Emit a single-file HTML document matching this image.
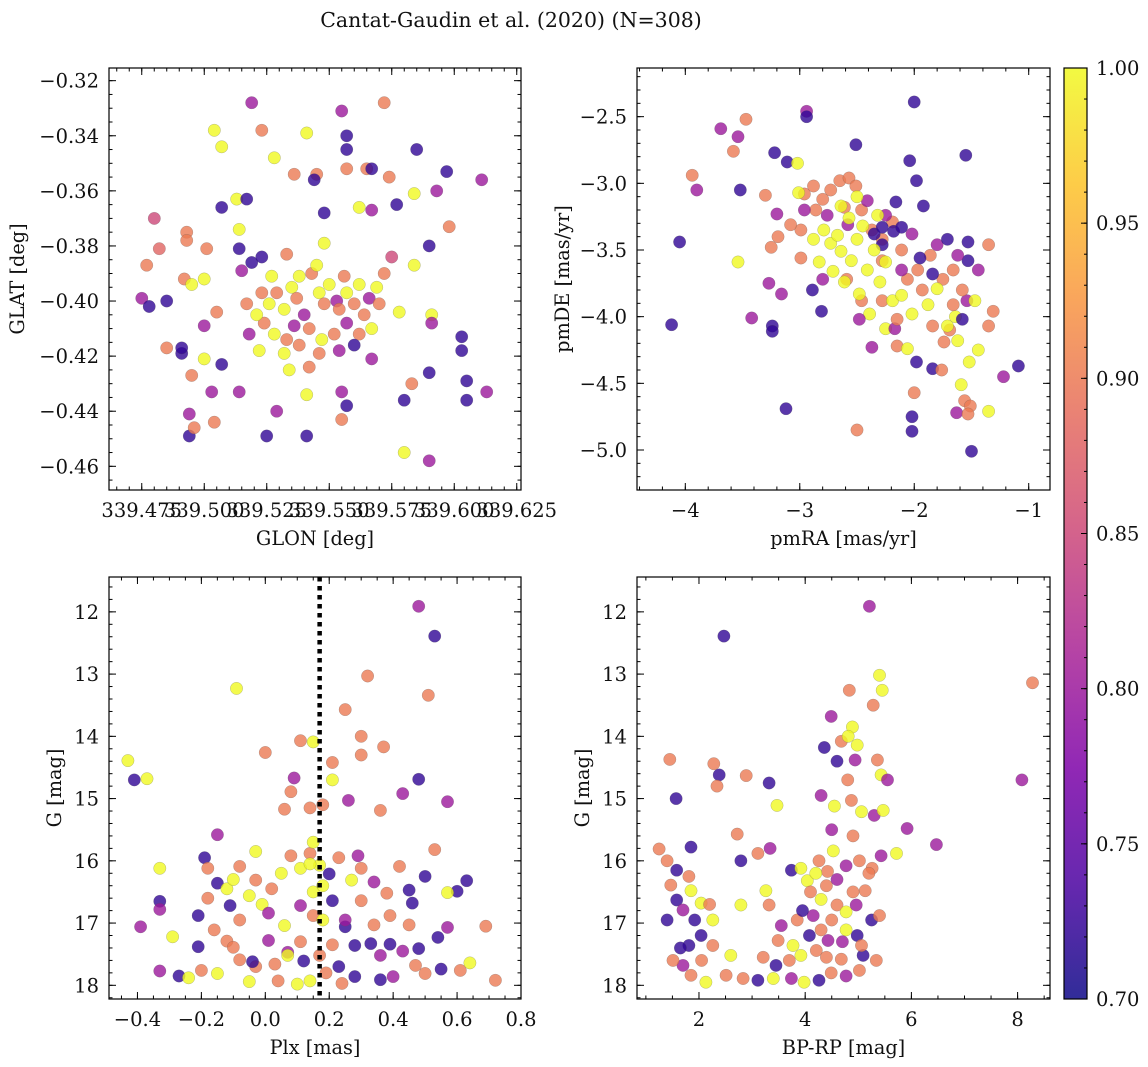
<!DOCTYPE html>
<html><head><meta charset="utf-8">
<style>
html,body{margin:0;padding:0;background:#fff;}
svg{display:block;font-family:"DejaVu Serif","Liberation Serif",serif;}
</style></head>
<body>
<svg id="fig" width="1148" height="1067" viewBox="0 0 1148 1067" xmlns="http://www.w3.org/2000/svg">
<defs>
<linearGradient id="plasma" x1="0" y1="1" x2="0" y2="0">
<stop offset="0" stop-color="#0d0887"/><stop offset="0.125" stop-color="#4c02a1"/><stop offset="0.25" stop-color="#7e03a8"/><stop offset="0.375" stop-color="#a92395"/><stop offset="0.5" stop-color="#cc4778"/><stop offset="0.625" stop-color="#e56b5d"/><stop offset="0.75" stop-color="#f89540"/><stop offset="0.875" stop-color="#fdc328"/><stop offset="1" stop-color="#f0f921"/>
</linearGradient>
</defs>
<text x="511" y="27" font-size="20.5" text-anchor="middle" fill="#111">Cantat-Gaudin et al. (2020) (N=308)</text>
</svg>
<script>
// ---- data ----
const glonGlatProb = [[339.519,-0.328,.8],[339.555,-0.331,.8],[339.572,-0.328,.9],[339.504,-0.338,1],[339.523,-0.338,.9],[339.541,-0.339,1],[339.557,-0.340,.72],[339.557,-0.345,.72],[339.507,-0.344,1],[339.585,-0.345,.72],[339.528,-0.348,1],[339.536,-0.354,.9],[339.545,-0.354,.9],[339.544,-0.356,.72],[339.557,-0.352,.9],[339.565,-0.352,.9],[339.567,-0.352,.72],[339.574,-0.355,.9],[339.597,-0.353,.72],[339.577,-0.365,.72],[339.584,-0.361,1],[339.593,-0.360,.8],[339.611,-0.356,.8],[339.567,-0.367,.8],[339.562,-0.366,1],[339.513,-0.363,1],[339.517,-0.363,.72],[339.507,-0.366,.72],[339.514,-0.374,1],[339.548,-0.368,.72],[339.480,-0.370,.85],[339.482,-0.381,.88],[339.493,-0.375,.9],[339.493,-0.378,.9],[339.501,-0.381,.9],[339.477,-0.387,.9],[339.492,-0.392,.9],[339.500,-0.392,1],[339.548,-0.379,1],[339.514,-0.381,.72],[339.598,-0.373,.9],[339.590,-0.380,.72],[339.584,-0.387,1],[339.575,-0.384,.85],[339.475,-0.399,.8],[339.478,-0.402,.72],[339.485,-0.400,.72],[339.495,-0.394,1],[339.515,-0.389,.8],[339.519,-0.386,.72],[339.523,-0.384,.72],[339.533,-0.383,.9],[339.505,-0.404,.9],[339.500,-0.409,.8],[339.485,-0.417,.9],[339.491,-0.419,.72],[339.491,-0.417,.72],[339.500,-0.421,1],[339.507,-0.423,.72],[339.495,-0.427,.9],[339.503,-0.433,.8],[339.514,-0.433,.8],[339.504,-0.444,.9],[339.494,-0.441,.8],[339.494,-0.449,.72],[339.496,-0.446,.9],[339.529,-0.440,.8],[339.525,-0.449,.72],[339.541,-0.449,.72],[339.541,-0.434,1],[339.555,-0.433,.8],[339.555,-0.443,.9],[339.557,-0.438,.72],[339.567,-0.421,.8],[339.583,-0.430,.9],[339.590,-0.426,.72],[339.580,-0.436,.72],[339.580,-0.455,1],[339.590,-0.458,.8],[339.603,-0.413,.72],[339.603,-0.418,.72],[339.605,-0.429,.72],[339.605,-0.436,.72],[339.613,-0.433,.8],[339.591,-0.405,1],[339.591,-0.408,.8],[339.578,-0.404,1],
[339.526,-0.401,1],[339.529,-0.397,.9],[339.532,-0.403,1],[339.535,-0.395,1],[339.537,-0.399,.9],[339.540,-0.405,.8],[339.543,-0.390,.9],[339.545,-0.387,1],[339.546,-0.397,1],[339.548,-0.401,.9],[339.550,-0.394,1],[339.553,-0.400,.8],[339.554,-0.403,.9],[339.556,-0.391,.9],[339.557,-0.397,1],[339.560,-0.401,.9],[339.562,-0.394,1],[339.564,-0.405,.9],[339.566,-0.399,.8],[339.569,-0.395,1],[339.570,-0.401,.9],[339.572,-0.390,.9],[339.524,-0.408,.9],[339.528,-0.412,1],[339.533,-0.414,.9],[339.536,-0.409,.8],[339.542,-0.410,.9],[339.547,-0.414,1],[339.552,-0.412,.9],[339.557,-0.408,.8],[339.562,-0.412,.9],[339.567,-0.410,1],[339.522,-0.418,1],[339.532,-0.419,1],[339.538,-0.416,.9],[339.546,-0.419,.9],[339.554,-0.418,.8],[339.560,-0.416,.72],[339.534,-0.425,1],[339.542,-0.424,.9],[339.523,-0.397,.9],[339.527,-0.391,1],[339.538,-0.391,1],[339.521,-0.405,1],[339.517,-0.401,.9],[339.518,-0.412,.8]];

const pmraPmdeProb = [[-2.0,-2.39,.72],[-2.94,-2.46,.8],[-2.94,-2.50,.72],[-3.69,-2.59,.8],[-3.47,-2.52,.9],[-3.54,-2.65,.8],[-3.58,-2.76,.9],[-3.22,-2.77,.72],[-2.51,-2.71,.72],[-1.55,-2.79,.72],[-2.04,-2.83,.72],[-3.11,-2.84,.72],[-3.02,-2.85,1],[-3.94,-2.94,.9],[-3.90,-3.05,.8],[-3.52,-3.05,.72],[-1.98,-2.98,.72],[-1.92,-3.17,.72],[-2.16,-3.14,.72],[-4.05,-3.44,.72],[-3.54,-3.59,1],[-4.12,-4.06,.72],[-3.42,-4.01,.8],[-3.24,-4.07,.72],[-3.24,-4.11,.72],[-3.12,-4.69,.72],[-2.50,-4.85,.9],[-2.02,-4.86,.72],[-2.02,-4.75,.72],[-2.0,-4.57,.9],[-1.63,-4.72,.8],[-1.56,-4.63,.9],[-1.51,-4.67,.9],[-1.53,-4.73,.9],[-1.50,-5.01,.72],[-1.35,-4.71,1],[-1.52,-4.34,1],[-1.22,-4.45,.8],[-1.09,-4.37,.72],[-1.53,-3.44,.72],[-1.53,-3.58,.72],[-1.54,-3.88,.8],[-1.35,-4.07,.9],[-1.31,-3.96,.9],[-1.35,-3.46,.9],[-3.30,-3.09,.9],[-3.20,-3.23,.8],[-3.19,-3.40,.9],[-3.25,-3.48,.9],[-3.27,-3.75,.8],[-3.16,-3.83,.8],[-2.99,-3.56,.9],[-2.89,-3.80,.72],[-2.81,-3.96,.72],[-2.59,-3.72,.9],[-2.39,-3.98,1],[-2.25,-4.09,1],[-2.17,-4.09,.8],[-2.37,-4.23,.8],[-2.15,-4.22,.9],[-2.06,-4.24,1],[-1.98,-4.34,.72],[-1.84,-4.39,.72],[-1.76,-4.40,.9],[-1.59,-4.51,1],[-1.74,-4.19,.9],[-1.69,-4.10,.9],[-1.64,-4.00,1],
[-2.96,-3.08,.9],[-2.88,-3.02,.9],[-2.80,-3.12,.9],[-2.73,-3.05,.9],[-2.65,-2.98,.9],[-2.57,-2.96,.9],[-2.51,-3.02,.9],[-2.61,-3.18,.9],[-2.46,-3.20,.9],[-2.37,-3.35,.9],[-2.28,-3.42,.9],[-2.19,-3.29,.9],[-2.11,-3.50,.9],[-1.97,-3.65,.9],[-1.86,-3.54,.9],[-1.75,-3.72,.9],[-1.66,-3.65,.9],[-1.58,-3.80,.9],[-1.93,-3.80,.9],[-2.06,-3.72,.9],[-2.99,-3.35,.9],[-2.86,-3.20,.9],[-3.08,-3.31,.9],[-2.46,-3.88,.9],[-2.28,-3.88,.9],[-2.15,-4.02,.9],[-1.84,-4.07,.9],[-1.66,-3.91,.9],[-2.28,-3.58,.9],
[-2.96,-3.20,.8],[-2.76,-3.24,.8],[-2.58,-3.31,.8],[-2.41,-3.13,.8],[-2.25,-3.24,.8],[-2.02,-3.38,.8],[-1.80,-3.46,.8],[-1.62,-3.54,.8],[-1.44,-3.65,.8],[-2.11,-3.65,.8],[-2.80,-3.72,.8],[-2.48,-4.02,.8],
[-2.35,-3.38,.72],[-2.28,-3.33,.72],[-2.18,-3.36,.72],[-1.95,-3.56,.72],[-1.84,-3.68,.72],[-1.71,-3.42,.72],[-1.58,-4.02,.72],[-2.28,-3.46,.72],[-2.11,-3.33,.72],
[-2.79,-3.35,1],[-2.73,-3.45,1],[-2.67,-3.39,1],[-2.64,-3.51,1],[-2.57,-3.26,1],[-2.55,-3.58,1],[-2.50,-3.42,1],[-2.45,-3.32,1],[-2.41,-3.65,1],[-2.35,-3.50,1],[-2.30,-3.74,1],[-2.25,-3.59,1],[-2.61,-3.74,1],[-2.71,-3.66,1],[-2.83,-3.59,1],[-2.48,-3.83,1],[-2.19,-3.88,1],[-2.11,-3.84,1],[-2.02,-3.98,1],[-1.88,-3.91,1],[-1.80,-3.79,1],[-1.71,-4.07,1],[-1.62,-4.18,1],[-1.44,-4.25,1],[-1.47,-3.88,1],[-2.64,-3.17,1],[-2.50,-3.10,1],[-3.01,-3.07,1],[-2.88,-3.42,1],[-2.32,-3.24,1]];

const plxGProb = [[0.48,11.91,.8],[0.53,12.39,.72],[-0.09,13.23,1],[0.32,13.03,.9],[0.51,13.34,.9],[0.15,14.09,1],[0.25,13.57,.9],[0.00,14.26,.9],[0.11,14.07,.9],[-0.43,14.39,1],[-0.41,14.70,.72],[-0.37,14.68,1],[0.21,14.42,.9],[0.30,14.00,.9],[0.30,14.30,.9],[0.37,14.17,.9],[0.48,14.69,.72],[0.57,15.05,.8],[0.43,14.92,.8],[0.36,15.19,.9],[0.21,14.70,1],[0.26,15.03,.8],[0.09,14.67,.8],[0.08,14.89,.9],[0.06,15.17,.9],[0.14,15.15,.9],[0.18,15.10,.9],[-0.15,15.58,.8],[-0.19,15.95,.72],[-0.18,16.12,.9],[-0.33,16.12,1],[-0.33,16.65,.72],[-0.39,17.06,.8],[-0.33,16.78,.8],[-0.29,17.22,1],[-0.33,17.77,.8],[-0.27,17.85,.72],[-0.20,17.76,.9],[-0.21,17.38,.72],[-0.16,17.11,.9],[-0.15,17.81,1],[-0.15,16.36,.72],[-0.08,16.09,.9],[-0.03,15.85,1],[-0.03,16.31,.9],[-0.01,16.70,1],[0.01,17.28,.8],[0.03,17.66,.9],[0.07,17.47,.8],[0.11,17.30,.9],[0.10,17.98,1],[0.19,17.80,.9],[0.23,17.70,.72],[0.25,17.06,.72],[0.28,17.36,.72],[0.33,17.33,.72],[0.36,17.52,.8],[0.39,17.34,.72],[0.43,17.45,.8],[0.48,17.41,.72],[0.54,17.23,.72],[0.57,17.07,.8],[0.69,17.05,.9],[0.63,16.32,.72],[0.60,16.49,.72],[0.57,16.51,1],[0.53,15.82,.9],[0.50,16.25,.72],[0.42,16.09,.9],[0.45,16.47,.72],[0.46,16.68,.72],[0.38,16.52,.9],[0.34,16.34,.8],[0.30,16.12,.9],[0.29,15.92,.8],[0.27,16.31,1],[0.23,15.95,.9],[0.20,16.21,.72],[0.17,16.07,1],[0.14,15.88,.9],[0.11,16.12,1],[0.08,15.92,.9],[0.05,16.20,1],[0.02,16.45,.9],[-0.05,16.56,1],[-0.08,16.95,.9],[-0.11,16.72,.72],[-0.12,17.29,.9],[-0.08,17.59,.9],[-0.03,17.70,.9],[-0.05,17.94,1],[-0.04,17.62,.72],[0.11,16.72,.8],[0.15,16.88,.9],[0.18,16.95,1],[0.21,16.64,.72],[0.25,16.95,.8],[0.30,16.64,.9],[0.34,17.03,.9],[0.39,16.88,.9],[0.45,17.03,.9],[0.47,17.68,.9],[0.50,17.81,.9],[0.55,17.74,.72],[0.61,17.76,.9],[0.64,17.64,1],[0.72,17.92,.9],[0.12,17.61,.72],[0.14,17.93,1],[0.17,17.52,.9],[0.21,17.35,.9],[0.06,17.04,1],[0.01,16.84,.8],[-0.18,16.60,.9],[-0.21,16.88,.72],[-0.10,17.39,.9],[0.36,17.91,.72],[0.40,17.86,.8],[0.24,17.97,.9],[0.28,17.86,.72],[0.07,17.52,1],[0.04,17.93,.9],[0.15,15.70,1],[0.15,16.50,1],[0.18,16.40,1],[0.14,16.05,1],[-0.12,16.45,1],[-0.10,16.30,1],[-0.24,17.88,1]];

const bprpGProb = [[2.47,12.39,.72],[5.21,11.91,.8],[8.28,13.14,.9],[5.40,13.02,1],[4.83,13.26,.9],[5.28,13.50,.9],[5.45,13.26,1],[4.49,13.68,.8],[4.89,13.85,1],[4.68,14.08,.9],[4.81,14.00,1],[4.98,14.14,1],[4.36,14.18,.72],[4.94,14.38,.8],[5.36,14.38,.9],[5.43,14.62,1],[5.55,14.70,.8],[1.45,14.37,.9],[2.28,14.44,.9],[2.38,14.62,.72],[2.34,14.80,.9],[2.89,14.63,.9],[3.32,14.75,.72],[8.08,14.70,.8],[1.57,15.00,.72],[3.47,15.11,1],[4.30,14.95,.8],[4.55,15.12,1],[4.87,15.03,.9],[5.06,15.21,1],[5.30,15.27,.8],[5.47,15.19,1],[5.92,15.48,.8],[6.47,15.74,.8],[5.72,15.88,1],[1.25,15.81,.9],[1.85,15.78,.72],[2.72,15.57,.9],[3.11,15.88,.9],[3.34,15.80,.8],[2.79,16.00,.72],[3.74,16.15,.72],[3.92,16.12,1],[4.04,16.32,1],[4.26,16.00,.9],[4.42,16.17,.9],[4.53,15.84,1],[4.77,16.08,.8],[5.02,16.00,.9],[5.26,16.12,.9],[5.43,15.92,.8],[1.40,16.00,.9],[1.58,16.15,.72],[1.81,16.25,.9],[1.47,16.39,.9],[1.85,16.48,1],[1.58,16.63,.72],[1.70,16.79,.8],[1.40,16.95,.72],[2.04,16.68,1],[2.26,16.95,1],[2.79,16.71,1],[3.26,16.48,1],[3.32,16.71,.9],[3.55,17.04,.8],[3.85,16.95,.9],[4.15,16.88,.8],[4.30,16.62,1],[4.60,16.71,.9],[4.77,16.82,1],[4.96,16.71,.8],[5.13,16.48,.9],[5.25,16.95,.72],[4.77,17.11,1],[4.98,17.20,.72],[4.43,17.28,.8],[4.21,17.44,.9],[3.92,17.52,1],[3.70,17.60,.9],[3.45,17.68,.72],[3.21,17.55,.9],[2.60,17.52,1],[2.26,17.36,.9],[2.04,17.20,.72],[1.81,17.36,.72],[1.70,17.68,.8],[1.51,17.60,.9],[1.85,17.84,.9],[2.13,17.95,1],[2.51,17.84,.9],[2.83,17.89,.9],[3.11,17.92,.72],[3.40,17.89,1],[3.74,17.89,.8],[3.98,17.95,1],[4.26,17.92,.72],[4.49,17.80,.9],[4.77,17.85,.8],[5.02,17.76,.9],[5.34,17.60,.9],[5.09,17.52,.72],[5.40,16.88,.9],[5.06,17.36,.9],[4.68,17.58,.9],[4.30,17.11,.9],[4.08,17.20,.72],[3.77,17.36,1],[1.92,16.95,.72],[3.49,17.28,.9],[4.40,16.40,.9],[4.60,16.30,.8],[4.90,16.50,.9],[4.50,16.95,.9],[4.70,17.30,.8],[4.40,17.55,.9],[4.90,15.60,.9],[4.50,15.50,.8],[4.20,16.20,1],[4.10,16.50,.9],[3.95,16.80,.72],[5.20,16.20,.9],[4.80,14.70,.9],[4.60,14.40,.72],[2.05,17.60,.9],[1.65,17.40,.72],[2.20,16.70,.9]];

const glonTicks = [339.475,339.500,339.525,339.550,339.575,339.600,339.625];
const glonLabels = ["339.475","339.500","339.525","339.550","339.575","339.600","339.625"];
const glatTicks = [-0.32,-0.34,-0.36,-0.38,-0.40,-0.42,-0.44,-0.46];
const glatLabels = ["−0.32","−0.34","−0.36","−0.38","−0.40","−0.42","−0.44","−0.46"];
const pmraTicks = [-4,-3,-2,-1];
const pmraLabels = ["−4","−3","−2","−1"];
const pmdeTicks = [-2.5,-3.0,-3.5,-4.0,-4.5,-5.0];
const pmdeLabels = ["−2.5","−3.0","−3.5","−4.0","−4.5","−5.0"];
const plxTicks = [-0.4,-0.2,0,0.2,0.4,0.6,0.8];
const plxLabels = ["−0.4","−0.2","0.0","0.2","0.4","0.6","0.8"];
const gTicks = [12,13,14,15,16,17,18];
const gLabels = ["12","13","14","15","16","17","18"];
const bprpTicks = [2,4,6,8];
const bprpLabels = ["2","4","6","8"];
const cbTicks = [0.70,0.75,0.80,0.85,0.90,0.95,1.00];
const cbLabels = ["0.70","0.75","0.80","0.85","0.90","0.95","1.00"];
const plxCut = 0.17;

// ---- rendering ----
const NS = "http://www.w3.org/2000/svg";
const svg = document.getElementById('fig');
const TF = 19.5, AF = 19.3;
function el(tag, attrs, parent){const e=document.createElementNS(NS,tag);for(const k in attrs)e.setAttribute(k,attrs[k]);(parent||svg).appendChild(e);return e;}
const stops=[[0,[13,8,135]],[0.125,[76,2,161]],[0.25,[126,3,168]],[0.375,[169,35,149]],[0.5,[204,71,120]],[0.625,[229,107,93]],[0.75,[248,149,64]],[0.875,[253,195,40]],[1,[240,249,33]]];
function plasma(p){let t=(p-0.7)/0.3;t=Math.max(0,Math.min(1,t));for(let i=1;i<stops.length;i++){if(t<=stops[i][0]){const a=stops[i-1],b=stops[i];const f=(t-a[0])/(b[0]-a[0]);const c=a[1].map((v,j)=>Math.round(v+(b[1][j]-v)*f));return `rgb(${c[0]},${c[1]},${c[2]})`;}}return 'rgb(240,249,33)';}

function panel(cfg){
  const [L,T,R,B]=cfg.box;
  const g=el('g',{});
  
  
  const sx=v=>L+(v-cfg.xr[0])/(cfg.xr[1]-cfg.xr[0])*(R-L);
  const sy=cfg.invert? v=>T+(v-cfg.yr[0])/(cfg.yr[1]-cfg.yr[0])*(B-T) : v=>B-(v-cfg.yr[0])/(cfg.yr[1]-cfg.yr[0])*(B-T);
  const clip=el('clipPath',{id:cfg.name+'-clip'},g);el('rect',{x:L,y:T,width:R-L,height:B-T},clip);
  const pts=el('g',{'clip-path':`url(#${cfg.name}-clip)`},g);
  
  
  cfg.data.forEach(d=>{
    const c=el('circle',{cx:sx(d[0]).toFixed(1),cy:sy(d[1]).toFixed(1),r:6.2,fill:plasma(d[2]),'fill-opacity':0.8,stroke:'#555','stroke-opacity':0.5,'stroke-width':0.4},pts);
    
    
  });
  if(cfg.vline!==undefined){
    const ln=el('line',{x1:sx(cfg.vline),x2:sx(cfg.vline),y1:T,y2:B,stroke:'#000','stroke-width':4.5,'stroke-dasharray':'4.5 4.5'},g);
    
    
  }
  const frame=el('rect',{x:L,y:T,width:R-L,height:B-T,fill:'none',stroke:'#000','stroke-width':1.2},g);
  
  
  const tk=el('g',{stroke:'#000','stroke-width':1},g);
  const x0=Math.min(...cfg.xr),x1=Math.max(...cfg.xr),y0=Math.min(...cfg.yr),y1=Math.max(...cfg.yr);
  for(let v=Math.ceil(x0/cfg.xminor-1e-6)*cfg.xminor;v<=x1+1e-9;v+=cfg.xminor){const x=sx(v);el('line',{x1:x,x2:x,y1:B,y2:B-3.5},tk);el('line',{x1:x,x2:x,y1:T,y2:T+3.5},tk);}
  for(let v=Math.ceil(y0/cfg.yminor-1e-6)*cfg.yminor;v<=y1+1e-9;v+=cfg.yminor){const y=sy(v);el('line',{x1:L,x2:L+3.5,y1:y,y2:y},tk);el('line',{x1:R,x2:R-3.5,y1:y,y2:y},tk);}
  cfg.xt.forEach((v,i)=>{const x=sx(v);el('line',{x1:x,x2:x,y1:B,y2:B-7},tk);el('line',{x1:x,x2:x,y1:T,y2:T+7},tk);
    const t=el('text',{x:x,y:B+27,'font-size':TF,'text-anchor':'middle',fill:'#111'},g);t.textContent=cfg.xl[i];
    
    });
  cfg.yt.forEach((v,i)=>{const y=sy(v);el('line',{x1:L,x2:L+7,y1:y,y2:y},tk);el('line',{x1:R,x2:R-7,y1:y,y2:y},tk);
    const t=el('text',{x:L-10,y:y+7,'font-size':TF,'text-anchor':'end',fill:'#111'},g);t.textContent=cfg.yl[i];
    
    });
  const xt=el('text',{x:(L+R)/2,y:B+55,'font-size':AF,'text-anchor':'middle',fill:'#111'},g);xt.textContent=cfg.xtitle;
  
  
  const yc=(T+B)/2;
  const yt=el('text',{x:cfg.ytx,y:yc,'font-size':AF,'text-anchor':'middle',fill:'#111',transform:`rotate(-90 ${cfg.ytx} ${yc})`},g);yt.textContent=cfg.ytitle;
  
  
}

panel({name:'glon-glat-panel',box:[109,68,521,490],xr:[339.4619,339.6267],yr:[-0.4686,-0.3154],data:glonGlatProb,xt:glonTicks,xl:glonLabels,yt:glatTicks,yl:glatLabels,xminor:0.005,yminor:0.005,xtitle:'GLON [deg]',ytitle:'GLAT [deg]',ytx:24});
panel({name:'pm-panel',box:[637,68,1050,490],xr:[-4.422,-0.814],yr:[-5.30,-2.135],data:pmraPmdeProb,xt:pmraTicks,xl:pmraLabels,yt:pmdeTicks,yl:pmdeLabels,xminor:0.2,yminor:0.1,xtitle:'pmRA [mas/yr]',ytitle:'pmDE [mas/yr]',ytx:569});
panel({name:'plx-g-panel',box:[109,577,521,999],xr:[-0.489,0.8],yr:[11.44,18.22],invert:true,data:plxGProb,xt:plxTicks,xl:plxLabels,yt:gTicks,yl:gLabels,xminor:0.05,yminor:0.2,xtitle:'Plx [mas]',ytitle:'G [mag]',ytx:61,vline:plxCut});
panel({name:'cmd-panel',box:[637,577,1050,999],xr:[0.833,8.61],yr:[11.44,18.22],invert:true,data:bprpGProb,xt:bprpTicks,xl:bprpLabels,yt:gTicks,yl:gLabels,xminor:0.5,yminor:0.2,xtitle:'BP-RP [mag]',ytitle:'G [mag]',ytx:589});

// colorbar
const cb=el('g',{});


const cT=68,cB=999,cL=1064,cR=1087;
const cy=v=>cB-(v-0.70)/0.30*(cB-cT);
el('rect',{x:cL,y:cT,width:cR-cL,height:cB-cT,fill:'url(#plasma)','fill-opacity':0.85},cb);
el('rect',{x:cL,y:cT,width:cR-cL,height:cB-cT,fill:'none',stroke:'#000','stroke-width':1.2},cb);
for(let v=0.70;v<=1.0001;v+=0.01){const y=cy(v);el('line',{x1:cR,x2:cR-3,y1:y,y2:y,stroke:'#000','stroke-width':1},cb);}
cbTicks.forEach((v,i)=>{const y=cy(v);el('line',{x1:cR,x2:cR-6,y1:y,y2:y,stroke:'#000','stroke-width':1},cb);
  const t=el('text',{x:1096,y:y+7,'font-size':TF,fill:'#111'},cb);t.textContent=cbLabels[i];
  
  });
</script>
</body></html>
